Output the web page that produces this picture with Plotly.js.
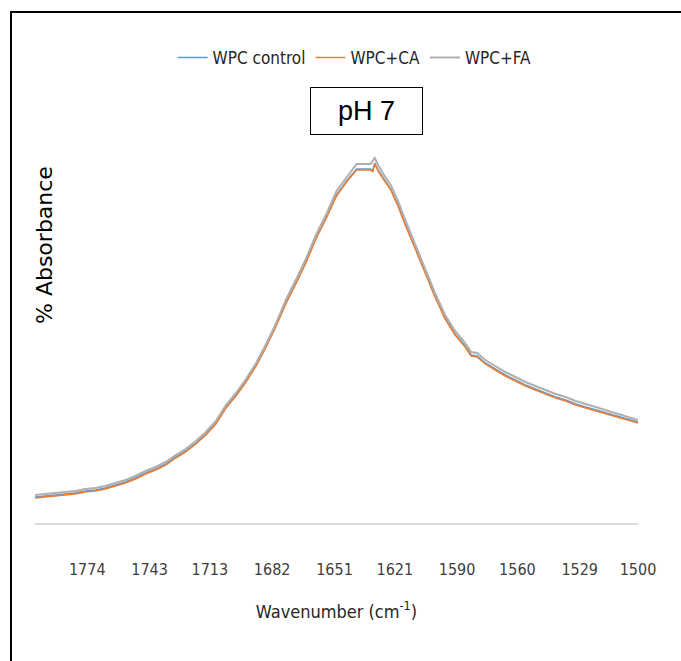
<!DOCTYPE html>
<html>
<head>
<meta charset="utf-8">
<script src="https://cdn.plot.ly/plotly-3.0.1.min.js"></script>
<style>html,body{margin:0;padding:0;background:#fff;}#chart{width:681px;height:661px;}</style>
</head>
<body>
<div id="chart"></div>
<script>
const wavenumber = [1800,1795,1790,1785,1780,1775,1770,1765,1760,1755,1750,1745,1740,1735,1730,1725,1720,1715,1710,1705,1700,1695,1690,1685,1680,1675,1670,1665,1660,1655,1650,1645,1640,1637,1633,1632,1631,1629,1627,1623,1619,1616,1611,1606,1601,1596,1591,1586,1583,1580,1576,1571,1566,1561,1556,1551,1546,1541,1536,1531,1526,1521,1516,1511,1506,1500];

const wpcControl = [0.026,0.027,0.028,0.029,0.030,0.032,0.033,0.035,0.038,0.041,0.045,0.050,0.054,0.059,0.066,0.072,0.080,0.089,0.100,0.116,0.128,0.142,0.158,0.177,0.198,0.221,0.241,0.262,0.286,0.306,0.328,0.342,0.354,0.354,0.354,0.352,0.360,0.352,0.346,0.334,0.316,0.300,0.276,0.252,0.227,0.205,0.189,0.177,0.168,0.167,0.160,0.154,0.148,0.143,0.138,0.134,0.130,0.126,0.123,0.119,0.116,0.113,0.110,0.107,0.104,0.101];

const wpcCA = [0.025,0.026,0.027,0.028,0.029,0.031,0.032,0.034,0.037,0.040,0.044,0.049,0.053,0.058,0.065,0.071,0.079,0.088,0.099,0.115,0.127,0.141,0.157,0.176,0.197,0.220,0.240,0.261,0.285,0.305,0.327,0.341,0.353,0.353,0.353,0.351,0.359,0.351,0.345,0.333,0.315,0.299,0.275,0.251,0.226,0.204,0.188,0.176,0.167,0.166,0.159,0.153,0.147,0.142,0.137,0.133,0.129,0.125,0.122,0.118,0.115,0.112,0.109,0.106,0.103,0.100];

const wpcFA = [0.028,0.029,0.030,0.031,0.032,0.034,0.035,0.037,0.040,0.043,0.047,0.052,0.056,0.061,0.068,0.074,0.082,0.091,0.102,0.118,0.130,0.144,0.160,0.179,0.200,0.224,0.244,0.265,0.289,0.309,0.332,0.346,0.359,0.359,0.359,0.362,0.365,0.357,0.350,0.338,0.320,0.304,0.279,0.255,0.230,0.208,0.192,0.180,0.171,0.170,0.163,0.157,0.151,0.146,0.141,0.137,0.133,0.129,0.126,0.122,0.119,0.116,0.113,0.110,0.107,0.103];

const tickValues = [1774,1743,1713,1682,1651,1621,1590,1560,1529,1500];
const tickLabels = ['1774','1743','1713','1682','1651','1621','1590','1560','1529','1500'];
const seriesNames = ['WPC control','WPC+CA','WPC+FA'];

const narrow = 'DejaVu Sans Condensed, Liberation Sans Narrow, sans-serif';

const traces = [
  {x: wavenumber, y: wpcControl, name: seriesNames[0], type: 'scatter', mode: 'lines',
   line: {color: '#5B9BD5', width: 1.5}},
  {x: wavenumber, y: wpcCA, name: seriesNames[1], type: 'scatter', mode: 'lines',
   line: {color: '#ED7D31', width: 1.5}},
  {x: wavenumber, y: wpcFA, name: seriesNames[2], type: 'scatter', mode: 'lines',
   line: {color: '#AFAFAF', width: 2}}
];

const layout = {
  width: 681, height: 661,
  margin: {l: 35, r: 43, t: 140, b: 138},
  paper_bgcolor: '#ffffff', plot_bgcolor: '#ffffff',
  showlegend: true,
  legend: {orientation: 'h', x: 0.53, xanchor: 'center', y: 1.214, yanchor: 'middle',
    font: {family: narrow, size: 17, color: '#262626'}, bgcolor: 'rgba(0,0,0,0)',
    traceorder: 'normal', itemwidth: 30},
  xaxis: {
    range: [1800, 1500], tickmode: 'array', tickvals: tickValues, ticktext: tickLabels,
    showline: true, linecolor: '#d9d9d9', linewidth: 2, showgrid: false, zeroline: false,
    ticks: '', ticklabelstandoff: 31,
    tickfont: {family: narrow, size: 16, color: '#404040'},
    title: {text: 'Wavenumber (cm<sup>-1</sup>)', font: {family: narrow, size: 18, color: '#262626'}, standoff: 27}
  },
  yaxis: {range: [0, 0.383], showticklabels: false, showgrid: false, zeroline: false, showline: false, ticks: ''},
  annotations: [
    {text: '% Absorbance', xref: 'paper', yref: 'paper', x: 9/603, y: (523-245)/383,
     xanchor: 'center', yanchor: 'middle', textangle: -90, showarrow: false,
     font: {family: 'DejaVu Sans, Arial, sans-serif', size: 22, color: '#000000'}},
    {text: 'pH 7', xref: 'paper', yref: 'paper', x: (366-35)/603, y: (523-111)/383,
     xanchor: 'center', yanchor: 'middle', showarrow: false, width: 111, height: 46,
     bordercolor: '#000000', borderwidth: 1, borderpad: 0, bgcolor: '#ffffff',
     font: {family: 'Liberation Sans, Arial, sans-serif', size: 27, color: '#000000'}}
  ],
  shapes: [
    {type: 'rect', xref: 'paper', yref: 'paper', x0: (11-35)/603, x1: (700-35)/603,
     y0: (523-700)/383, y1: (523-12)/383, line: {color: '#000000', width: 2}, fillcolor: 'rgba(0,0,0,0)', layer: 'below'}
  ]
};

Plotly.newPlot('chart', traces, layout, {displayModeBar: false, staticPlot: true});
</script>
</body>
</html>
